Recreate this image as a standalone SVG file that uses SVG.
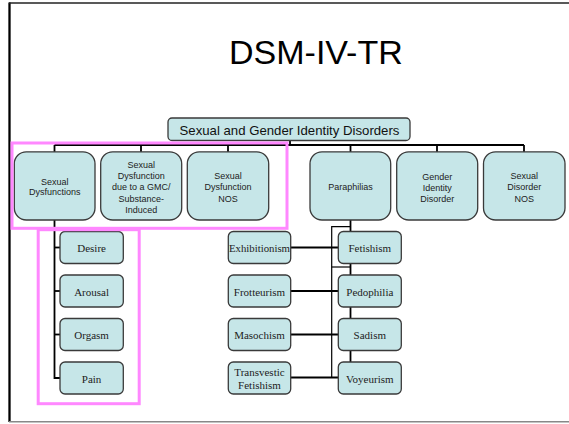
<svg xmlns="http://www.w3.org/2000/svg" width="569" height="424" viewBox="0 0 569 424">
<style>
.l1 { fill: #C6E6E8; stroke: #3a3a3a; stroke-width: 1.3; }
.ch { fill: #C6E6E8; stroke: #3a3a3a; stroke-width: 1.3; }
.t1 { font-family: "Liberation Sans", Arial, sans-serif; font-size: 9px; fill: #222; text-anchor: middle; }
.tc { font-family: "Liberation Serif", "Times New Roman", serif; font-size: 11px; fill: #222; text-anchor: middle; }
.cn { stroke: #000; stroke-width: 1.8; fill: none; }
.thin { stroke: #000; stroke-width: 1.2; fill: none; }
.pink { fill: none; stroke: #FF88FF; stroke-width: 3; }
</style>
<rect x="0" y="0" width="569" height="424" fill="#fff"/>
<!-- slide frame -->
<line x1="9.5" y1="2.5" x2="9.5" y2="422" stroke="#000" stroke-width="2.3"/>
<line x1="9" y1="3" x2="569" y2="3" stroke="#222" stroke-width="1.3"/>
<line x1="9" y1="421.8" x2="569" y2="421.8" stroke="#888" stroke-width="1.5"/>
<text x="229" y="63.5" font-family="Liberation Sans, Arial, sans-serif" font-size="34" fill="#000">DSM-IV-TR</text>

<g id="connectors">
  <line class="cn" x1="290" y1="140.5" x2="290" y2="145"/>
  <line class="cn" x1="54.5" y1="145" x2="524" y2="145"/>
  <line class="cn" x1="54.5" y1="145" x2="54.5" y2="152"/>
  <line class="cn" x1="141" y1="145" x2="141" y2="152"/>
  <line class="cn" x1="228" y1="145" x2="228" y2="152"/>
  <line class="cn" x1="350.5" y1="145" x2="350.5" y2="152"/>
  <line class="cn" x1="437" y1="145" x2="437" y2="152"/>
  <line class="cn" x1="524" y1="145" x2="524" y2="152"/>
  <!-- sexual dysfunctions children -->
  <polyline class="cn" points="54.5,220 54.5,378 60,378"/>
  <line class="cn" x1="54.5" y1="247.5" x2="60" y2="247.5"/>
  <line class="cn" x1="54.5" y1="291" x2="60" y2="291"/>
  <line class="cn" x1="54.5" y1="334.5" x2="60" y2="334.5"/>
  <!-- paraphilias -->
  <line class="cn" x1="350.5" y1="220" x2="350.5" y2="231.5" stroke-width="2.3"/>
  <polyline class="thin" points="350.5,226.7 331.7,226.7 331.7,377.5"/>
  <line class="thin" x1="331.7" y1="267" x2="350.5" y2="267"/>
  <line class="cn" x1="350.5" y1="263.5" x2="350.5" y2="275"/>
  <line class="cn" x1="350.5" y1="307" x2="350.5" y2="318.5"/>
  <line class="cn" x1="350.5" y1="350.5" x2="350.5" y2="362"/>
  <line class="cn" x1="290.7" y1="247.5" x2="338.3" y2="247.5"/>
  <line class="cn" x1="290.7" y1="291" x2="338.3" y2="291"/>
  <line class="cn" x1="290.7" y1="334.5" x2="338.3" y2="334.5"/>
  <line class="cn" x1="290.7" y1="377.5" x2="338.3" y2="377.5"/>
</g>

<g id="root">
  <rect x="168" y="118" width="242" height="22.5" rx="4" class="l1"/>
  <text x="289.5" y="135.2" font-family="Liberation Sans, Arial, sans-serif" font-size="13.2" fill="#111" text-anchor="middle">Sexual and Gender Identity Disorders</text>
</g>

<g id="sexual-dysfunctions">
  <rect x="14.3" y="151.8" width="80.7" height="68.2" rx="12" class="l1"/>
  <text class="t1" x="54.7" y="184.8">Sexual</text>
  <text class="t1" x="54.7" y="195">Dysfunctions</text>
</g>
<g id="sd-gmc">
  <rect x="100.7" y="151.8" width="81" height="68.2" rx="12" class="l1"/>
  <text class="t1" x="141.2" y="167.6">Sexual</text>
  <text class="t1" x="141.2" y="179">Dysfunction</text>
  <text class="t1" x="141.2" y="190.3">due to a GMC/</text>
  <text class="t1" x="141.2" y="201.7">Substance-</text>
  <text class="t1" x="141.2" y="213">Induced</text>
</g>
<g id="sd-nos">
  <rect x="187.3" y="151.8" width="81.4" height="68.2" rx="12" class="l1"/>
  <text class="t1" x="228" y="179">Sexual</text>
  <text class="t1" x="228" y="190.2">Dysfunction</text>
  <text class="t1" x="228" y="201.5">NOS</text>
</g>
<g id="paraphilias">
  <rect x="310" y="151.8" width="80.7" height="68.2" rx="12" class="l1"/>
  <text class="t1" x="350.4" y="190">Paraphilias</text>
</g>
<g id="gid">
  <rect x="396.7" y="151.8" width="81" height="68.2" rx="12" class="l1"/>
  <text class="t1" x="437.2" y="179.5">Gender</text>
  <text class="t1" x="437.2" y="190.7">Identity</text>
  <text class="t1" x="437.2" y="202">Disorder</text>
</g>
<g id="sd-disorder-nos">
  <rect x="483.5" y="151.8" width="81.5" height="68.2" rx="12" class="l1"/>
  <text class="t1" x="524.2" y="178.5">Sexual</text>
  <text class="t1" x="524.2" y="189.9">Disorder</text>
  <text class="t1" x="524.2" y="201.5">NOS</text>
</g>

<g id="desire"><rect x="60" y="231.5" width="63.3" height="32" rx="5" class="ch"/><text class="tc" x="91.6" y="252">Desire</text></g>
<g id="arousal"><rect x="60" y="275" width="63.3" height="32" rx="5" class="ch"/><text class="tc" x="91.6" y="295.5">Arousal</text></g>
<g id="orgasm"><rect x="60" y="318.5" width="63.3" height="32" rx="5" class="ch"/><text class="tc" x="91.6" y="339">Orgasm</text></g>
<g id="pain"><rect x="60" y="362" width="63.3" height="32" rx="5" class="ch"/><text class="tc" x="91.6" y="382.5">Pain</text></g>

<g id="exhibitionism"><rect x="228.3" y="231.5" width="62.4" height="32" rx="5" class="ch"/><text class="tc" x="259.5" y="252" textLength="61" lengthAdjust="spacingAndGlyphs">Exhibitionism</text></g>
<g id="frotteurism"><rect x="228.3" y="275" width="62.4" height="32" rx="5" class="ch"/><text class="tc" x="259.5" y="295.5">Frotteurism</text></g>
<g id="masochism"><rect x="228.3" y="318.5" width="62.4" height="32" rx="5" class="ch"/><text class="tc" x="259.5" y="339">Masochism</text></g>
<g id="transvestic-fetishism"><rect x="228.3" y="362" width="62.4" height="32" rx="5" class="ch"/><text class="tc" x="259.5" y="376">Transvestic</text><text class="tc" x="259.5" y="389">Fetishism</text></g>

<g id="fetishism"><rect x="338.3" y="231.5" width="63" height="32" rx="5" class="ch"/><text class="tc" x="369.8" y="252">Fetishism</text></g>
<g id="pedophilia"><rect x="338.3" y="275" width="63" height="32" rx="5" class="ch"/><text class="tc" x="369.8" y="295.5">Pedophilia</text></g>
<g id="sadism"><rect x="338.3" y="318.5" width="63" height="32" rx="5" class="ch"/><text class="tc" x="369.8" y="339">Sadism</text></g>
<g id="voyeurism"><rect x="338.3" y="362" width="63" height="32" rx="5" class="ch"/><text class="tc" x="369.8" y="382.5">Voyeurism</text></g>

<g id="highlights">
  <rect x="12" y="143" width="275" height="85.3" class="pink"/>
  <rect x="38.2" y="229.7" width="101" height="174" class="pink"/>
</g>
</svg>
